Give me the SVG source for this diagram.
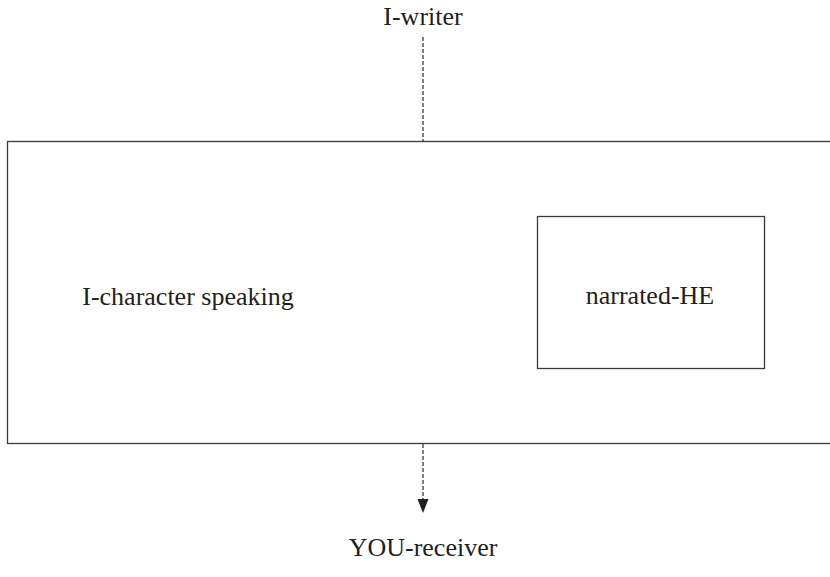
<svg xmlns="http://www.w3.org/2000/svg" width="830" height="577" viewBox="0 0 830 577">
<style>
.t{font-family:"Liberation Serif","DejaVu Serif",serif;font-size:26px;fill:#231f20;text-anchor:middle}
.box{fill:none;stroke:#3a3a3a;stroke-width:1.3}
.dash{fill:none;stroke:#3a3a3a;stroke-width:1.3;stroke-dasharray:4,2}
</style>
<defs>
<marker id="ah" markerWidth="11" markerHeight="14" refX="7" refY="14" orient="0" markerUnits="userSpaceOnUse">
<path d="M1.5,0 L12.5,0 L7,14 Z" fill="#231f20"/>
</marker>
</defs>
<g id="outer"><rect class="box" x="7.5" y="141.5" width="840" height="302"/>
<text class="t" x="188" y="305">I-character speaking</text></g>
<g id="narrated"><rect class="box" x="537.5" y="216.5" width="227" height="152"/>
<text class="t" x="650" y="304">narrated-HE</text></g>
<g id="writer"><text class="t" x="423" y="25">I-writer</text></g>
<g id="receiver"><text class="t" x="423" y="556">YOU-receiver</text></g>
<g id="connectors">
<line class="dash" x1="423" y1="37" x2="423" y2="141"/>
<line class="dash" x1="423" y1="444" x2="423" y2="500"/>
<path d="M417.5,499 L428.5,499 L423,513 Z" fill="#231f20"/>
</g>
</svg>
